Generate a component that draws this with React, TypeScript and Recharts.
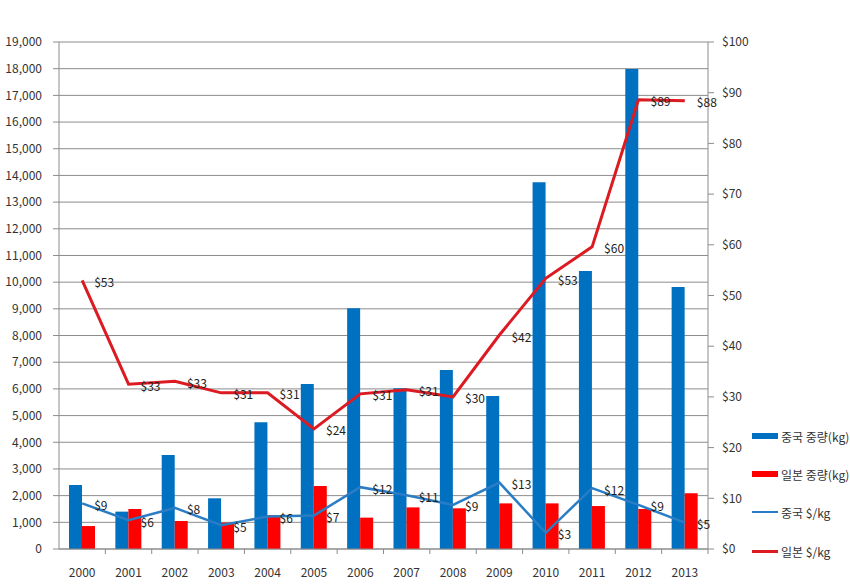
import { ComposedChart, Bar, Line, XAxis, YAxis, CartesianGrid, LabelList } from 'recharts';

const years = ['2000', '2001', '2002', '2003', '2004', '2005', '2006', '2007', '2008', '2009', '2010', '2011', '2012', '2013'];
const chinaKg = [2400, 1400, 3520, 1900, 4750, 6180, 9020, 6020, 6710, 5730, 13740, 10420, 17990, 9820];
const japanKg = [860, 1500, 1050, 990, 1270, 2360, 1175, 1560, 1525, 1710, 1710, 1610, 1500, 2090];
const chinaPrice = [9.0, 5.7, 8.1, 4.7, 6.4, 6.6, 12.2, 10.6, 8.7, 13.1, 3.2, 12.0, 8.7, 5.2];
const japanPrice = [53.0, 32.5, 33.1, 30.8, 30.8, 23.7, 30.6, 31.4, 30.0, 42.2, 53.4, 59.6, 88.6, 88.4];

const leftTicks = [0, 1000, 2000, 3000, 4000, 5000, 6000, 7000, 8000, 9000, 10000, 11000, 12000, 13000, 14000, 15000, 16000, 17000, 18000, 19000];
const rightTicks = [0, 10, 20, 30, 40, 50, 60, 70, 80, 90, 100];

const legendItems = [
  { name: '중국 중량(kg)', color: '#0070C0', kind: 'bar' },
  { name: '일본 중량(kg)', color: '#FF0000', kind: 'bar' },
  { name: '중국 $/kg', color: '#2A7DC4', kind: 'line' },
  { name: '일본 $/kg', color: '#DC1A22', kind: 'line' },
];

const data = years.map((y, i) => ({
  year: y,
  chinaKg: chinaKg[i],
  japanKg: japanKg[i],
  chinaPrice: chinaPrice[i],
  japanPrice: japanPrice[i],
}));

const FONT = '"Noto Sans CJK KR", "Noto Sans", sans-serif';
const GRID = '#8c8c8c';

const XTick = (props: any) => {
  const { x, y, payload } = props;
  const half = payload.offset || 23.18;
  return (
    <g>
      <line x1={x + half} x2={x + half} y1={y} y2={y + 5} stroke={GRID} />
      <text x={x} y={y + 22} textAnchor="middle" dominantBaseline="central" fontSize={12} fill="#333" fontFamily={FONT}>
        {payload.value}
      </text>
    </g>
  );
};

const priceLabel = (props: any) => {
  const { x, y, value } = props;
  return (
    <text x={x + 12} y={y + 1} dominantBaseline="central" fontSize={12} fill="#222" fontFamily={FONT}>
      ${Math.round(value)}
    </text>
  );
};

export default function App() {
  return (
    <div style={{ position: 'absolute', left: 0, top: 0, width: 850, height: 587, background: '#fff', fontFamily: FONT }}>
      <ComposedChart
        width={850}
        height={587}
        data={data}
        margin={{ top: 42, right: 0, bottom: 0, left: 0 }}
        barGap={0}
        barCategoryGap={10}
      >
        <CartesianGrid yAxisId="left" vertical={false} stroke={GRID} />
        <XAxis
          dataKey="year"
          height={38}
          tickSize={0}
          tickMargin={0}
          tick={<XTick />}
          axisLine={{ stroke: GRID }}
          interval={0}
        />
        <YAxis
          yAxisId="left"
          width={59}
          domain={[0, 19000]}
          ticks={leftTicks}
          interval={0}
          tickFormatter={(v: number) => v.toLocaleString('en-US')}
          tickSize={6}
          tickMargin={11}
          tick={{ fontSize: 12, fill: '#333', fontFamily: FONT }}
          axisLine={{ stroke: GRID }}
          tickLine={{ stroke: GRID }}
        />
        <YAxis
          yAxisId="right"
          orientation="right"
          width={142}
          domain={[0, 100]}
          ticks={rightTicks}
          interval={0}
          tickFormatter={(v: number) => `$${v}`}
          tickSize={6}
          tickMargin={8}
          tick={{ fontSize: 12, fill: '#333', fontFamily: FONT, textAnchor: 'start' }}
          axisLine={{ stroke: GRID }}
          tickLine={{ stroke: GRID }}
        />
        <Bar yAxisId="left" dataKey="chinaKg" fill="#0070C0" isAnimationActive={false} />
        <Bar yAxisId="left" dataKey="japanKg" fill="#FF0000" isAnimationActive={false} />
        <Line
          yAxisId="right"
          type="linear"
          dataKey="chinaPrice"
          stroke="#2A7DC4"
          strokeWidth={2.5}
          dot={false}
          activeDot={false}
          isAnimationActive={false}
        >
          <LabelList dataKey="chinaPrice" content={priceLabel} />
        </Line>
        <Line
          yAxisId="right"
          type="linear"
          dataKey="japanPrice"
          stroke="#DC1A22"
          strokeWidth={3}
          dot={false}
          activeDot={false}
          isAnimationActive={false}
        >
          <LabelList dataKey="japanPrice" content={priceLabel} />
        </Line>
      </ComposedChart>

      {/* legend, stacked at bottom right */}
      {legendItems.map((item, i) => {
        const top = [436, 474, 512, 551][i];
        return (
          <div key={item.name} style={{ position: 'absolute', left: 752, top: top - 9, height: 18, display: 'flex', alignItems: 'center' }}>
            <div
              style={{
                width: 26,
                height: item.kind === 'bar' ? 6 : item.name.startsWith('일본') ? 3 : 2,
                background: item.color,
              }}
            />
            <span style={{ marginLeft: 3, fontSize: 12, color: '#333', whiteSpace: 'nowrap' }}>{item.name}</span>
          </div>
        );
      })}
    </div>
  );
}
